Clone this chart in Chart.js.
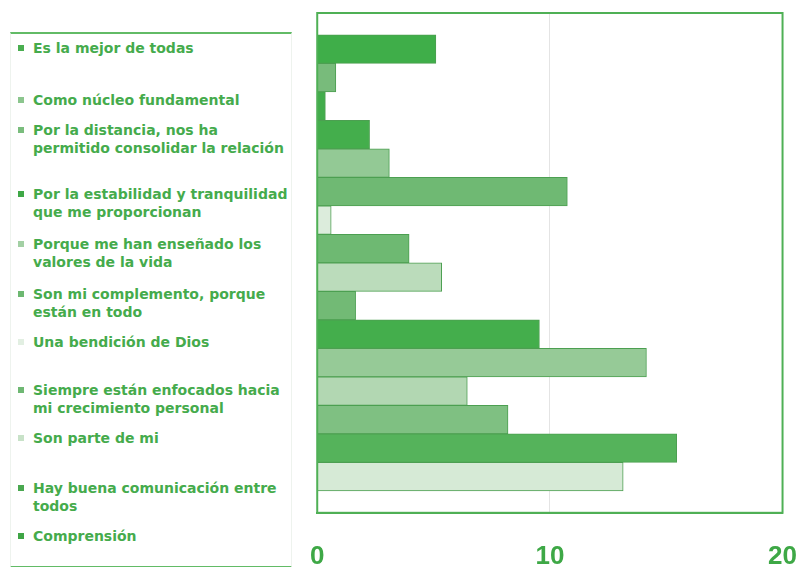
<!DOCTYPE html>
<html>
<head>
<meta charset="utf-8">
<script src="https://cdn.jsdelivr.net/npm/chart.js@4.4.1/dist/chart.umd.min.js"></script>
<style>
  html, body { margin: 0; padding: 0; width: 799px; height: 567px; overflow: hidden; background: #fff; }
  #leyenda {
    position: absolute; left: 10px; top: 32px; width: 280px; height: 532px;
    border-top: 2px solid #62bb66; border-bottom: 2px solid #62bb66;
    border-left: 1px solid #eef3ee; border-right: 1px solid #eef3ee;
    font-family: "DejaVu Sans", Verdana, sans-serif; font-weight: bold; font-size: 14px;
    color: #45ab4c; line-height: 18px;
  }
  .item { position: absolute; left: 22px; white-space: nowrap; }
  .marca { position: absolute; left: -15px; top: 6px; width: 6px; height: 6px; }
  #grafico { position: absolute; left: 282px; top: 0; }
</style>
</head>
<body>
<div id="leyenda"></div>
<canvas id="grafico" width="543" height="600"></canvas>
<script>
// valores de cada barra (de arriba hacia abajo)
const valores = [5.1, 0.8, 0.35, 2.25, 3.1, 10.75, 0.6, 3.95, 5.35, 1.65, 9.55, 14.15, 6.45, 8.2, 15.45, 13.15];
const coloresBarras = [
  "#3fae49", "#78bb7b", "#42ad4b", "#44ae4c", "#93c995", "#6fb973", "#dcecdc", "#6eb972",
  "#bbdcbb", "#72ba75", "#44ae4c", "#96ca97", "#b2d7b2", "#7fc082", "#55b35b", "#d6ead6"
];
const ticksX = [0, 10, 20];

// leyenda
const respuestas = [
  ["Es la mejor de todas"],
  ["Como núcleo fundamental"],
  ["Por la distancia, nos ha", "permitido consolidar la relación"],
  ["Por la estabilidad y tranquilidad", "que me proporcionan"],
  ["Porque me han enseñado los", "valores de la vida"],
  ["Son mi complemento, porque", "están en todo"],
  ["Una bendición de Dios"],
  ["Siempre están enfocados hacia", "mi crecimiento personal"],
  ["Son parte de mi"],
  ["Hay buena comunicación entre", "todos"],
  ["Comprensión"]
];
const coloresLeyenda = [
  "#4aae50", "#8cc68e", "#7abd7d", "#3fa846", "#a3d0a4", "#6db871",
  "#e2efe2", "#6fb873", "#c8e2c8", "#4aa850", "#3ea545"
];

// posición vertical de cada entrada dentro del recuadro
const topsLeyenda = [5, 57, 87, 151, 201, 251, 299, 347, 395, 445, 493];

const leyenda = document.getElementById("leyenda");
respuestas.forEach((lineas, i) => {
  const div = document.createElement("div");
  div.className = "item";
  div.style.top = topsLeyenda[i] + "px";
  div.innerHTML = lineas.join("<br>");
  const m = document.createElement("span");
  m.className = "marca";
  m.style.background = coloresLeyenda[i];
  div.appendChild(m);
  leyenda.appendChild(div);
});

// marco verde alrededor del área del gráfico
const marco = {
  id: "marco",
  afterDraw(chart) {
    const { ctx, chartArea: a } = chart;
    ctx.save();
    ctx.strokeStyle = "#4fb055";
    ctx.lineWidth = 2;
    ctx.strokeRect(a.left, a.top, a.right - a.left, a.bottom - a.top);
    ctx.restore();
  }
};

const ctx = document.getElementById("grafico");
new Chart(ctx, {
  type: "bar",
  data: {
    datasets: [
      {
        data: valores.map((v, i) => ({ x: v, y: i })),
        backgroundColor: coloresBarras,
        borderColor: "#4c9f51",
        borderWidth: 1,
        barPercentage: 1,
        categoryPercentage: 1,
      },
    ],
  },
  options: {
    indexAxis: "y",
    responsive: false,
    animation: false,
    layout: { padding: { left: 0, right: 0, top: 13, bottom: 0 } },
    plugins: { legend: { display: false }, tooltip: { enabled: false } },
    scales: {
      x: {
        type: "linear",
        min: 0,
        max: 20,
        afterBuildTicks: (axis) => { axis.ticks = ticksX.map((v) => ({ value: v })); },
        grid: {
          drawTicks: false,
          color: (c) => (c.tick && c.tick.value === 10 ? "#e4e4e4" : "rgba(0,0,0,0)"),
        },
        border: { color: "#4fb055", width: 2 },
        ticks: {
          padding: 28,
          color: "#3ea846",
          font: { family: "Liberation Sans", size: 26, weight: "bold" },
        },
      },
      y: {
        type: "linear",
        display: false,
        offset: false,
        reverse: true,
        min: -1.27,
        max: 16.27,
      },
    },
  },
  plugins: [marco],
});
</script>
</body>
</html>
